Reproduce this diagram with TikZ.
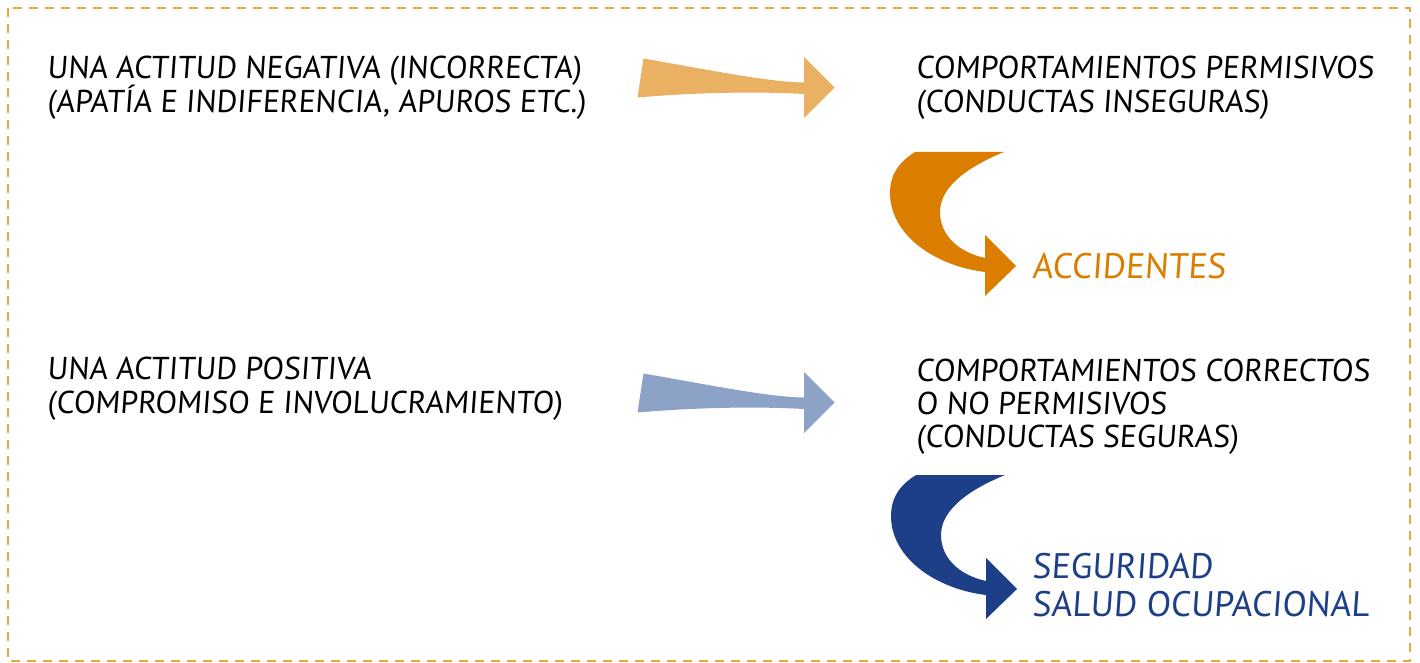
\documentclass[tikz,border=0pt]{standalone}
\usepackage{fontspec}
\setmainfont{PT Sans}[FakeSlant=0.07]
\definecolor{borderc}{HTML}{E8A448}
\definecolor{lorange}{HTML}{EAB064}
\definecolor{dorange}{HTML}{DB7E00}
\definecolor{lblue}{HTML}{8CA2C6}
\definecolor{dblue}{HTML}{1D3F88}
\tikzset{
  txt/.style={anchor=base west, inner sep=0pt, font=\fontsize{31.6}{36}\selectfont, text=black},
  bigtxt/.style={anchor=base west, inner sep=0pt, font=\fontsize{35.5}{40}\selectfont},
}
\begin{document}
\begin{tikzpicture}[x=1pt,y=-1pt]
\useasboundingbox (0,0) rectangle (1420,663);
\draw[borderc, line width=2pt, dash pattern=on 9pt off 7pt] (8,8) rectangle (1410,661);
% texts
\node[txt] (n1) at (47,79) {UNA ACTITUD NEGATIVA (INCORRECTA)};
\node[txt] (n2) at (47,113) {(APATÍA E INDIFERENCIA, APUROS ETC.)};
\node[txt] (c1) at (916,79) {COMPORTAMIENTOS PERMISIVOS};
\node[txt] (c2) at (916,113) {(CONDUCTAS INSEGURAS)};
\node[bigtxt, text=dorange] (acc) at (1032,278) {ACCIDENTES};
\node[txt] (p1) at (47,379) {UNA ACTITUD POSITIVA};
\node[txt] (p2) at (47,413) {(COMPROMISO E INVOLUCRAMIENTO)};
\node[txt] (k1) at (916,381) {COMPORTAMIENTOS CORRECTOS};
\node[txt] (k2) at (916,414) {O NO PERMISIVOS};
\node[txt] (k3) at (916,447) {(CONDUCTAS SEGURAS)};
\node[bigtxt, text=dblue] (s1) at (1032,578) {SEGURIDAD};
\node[bigtxt, text=dblue] (s2) at (1032,616) {SALUD OCUPACIONAL};
% straight arrows
\fill[lorange] (643.5,58.5) .. controls (720,72) and (770,82) .. (804,82.5) -- (804,57) -- (834.5,87.5) -- (804,118) -- (804,94) .. controls (750,91) and (690,93) .. (637.5,97.5) -- cycle;
\begin{scope}[shift={(0,315)}]
\fill[lblue] (643.5,58.5) .. controls (720,72) and (770,82) .. (804,82.5) -- (804,57) -- (834.5,87.5) -- (804,118) -- (804,94) .. controls (750,91) and (690,93) .. (637.5,97.5) -- cycle;
\end{scope}
% curved arrows
\fill[dorange] (915,152) -- (1004,152) .. controls (965,168) and (940,188) .. (940,212) .. controls (940,235) and (958,252) .. (985,258) -- (985,235) -- (1016,266) -- (985,296) -- (985,272) .. controls (935,266) and (890,235) .. (890,193) .. controls (890,172) and (902,160) .. (915,152) -- cycle;
\begin{scope}[shift={(1,323)}]
\fill[dblue] (915,152) -- (1004,152) .. controls (965,168) and (940,188) .. (940,212) .. controls (940,235) and (958,252) .. (985,258) -- (985,235) -- (1016,266) -- (985,296) -- (985,272) .. controls (935,266) and (890,235) .. (890,193) .. controls (890,172) and (902,160) .. (915,152) -- cycle;
\end{scope}
\end{tikzpicture}
\end{document}
